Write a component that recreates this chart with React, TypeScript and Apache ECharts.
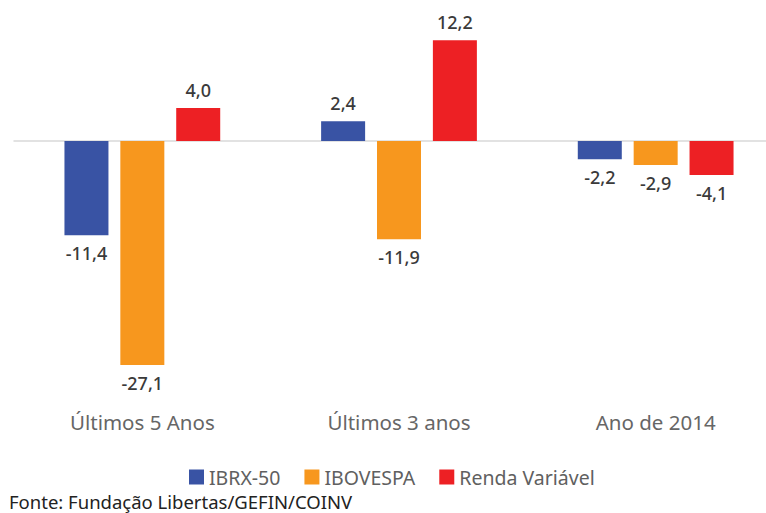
import React, { useEffect, useRef } from "react";
import * as echarts from "echarts";

const categories = ["Últimos 5 Anos", "Últimos 3 anos", "Ano de 2014"];
const seriesNames = ["IBRX-50", "IBOVESPA", "Renda Variável"];
const ibrx50 = [-11.4, 2.4, -2.2];
const ibovespa = [-27.1, -11.9, -2.9];
const rendaVariavel = [4.0, 12.2, -4.1];
const colors = ["#3953A4", "#F7971E", "#ED2024"];
const sourceText = "Fonte: Fundação Libertas/GEFIN/COINV";

export default function App() {
  const ref = useRef<HTMLDivElement>(null);
  useEffect(() => {
    if (!ref.current) return;
    const chart = echarts.init(ref.current, null, { renderer: "svg" });
    const values = [ibrx50, ibovespa, rendaVariavel];
    const font = "'Noto Sans', sans-serif";
    chart.setOption({
      animation: false,
      grid: { left: 14, width: 770, top: 17, height: 372, containLabel: false },
      legend: {
        show: true,
        top: 467,
        left: 189,
        padding: 0,
        itemWidth: 15,
        itemHeight: 15,
        itemGap: 24,
        icon: "rect",
        textStyle: { fontFamily: font, fontSize: 19.5, color: "#606060", lineHeight: 20 },
        data: seriesNames,
      },
      graphic: [
        {
          type: "text",
          left: 9,
          top: 491,
          style: { text: sourceText, fontFamily: font, fontSize: 18.5, lineHeight: 20, fill: "#222222" },
        },
      ],
      xAxis: [
        {
          type: "category",
          data: categories,
          position: "bottom",
          axisLine: { show: false, onZero: false },
          axisTick: { show: false },
          axisLabel: { margin: 22, fontFamily: font, fontSize: 20.5, color: "#666666" },
        },
        {
          type: "category",
          data: categories,
          axisLine: { show: true, onZero: true, lineStyle: { color: "#D9D9D9", width: 1.5 } },
          axisTick: { show: false },
          axisLabel: { show: false },
        },
      ],
      yAxis: {
        type: "value",
        min: -30,
        max: 15,
        show: false,
        splitLine: { show: false },
      },
      series: seriesNames.map((name, i) => ({
        name,
        type: "bar",
        xAxisIndex: 0,
        data: values[i].map((v) => ({
          value: v,
          label: { position: v >= 0 ? "top" : "bottom" },
        })),
        barWidth: 44,
        barGap: "27%",
        itemStyle: { color: colors[i] },
        label: {
          show: true,
          distance: 9,
          fontFamily: font,
          fontSize: 18,
          fontWeight: 500,
          color: "#3a3a3a",
          formatter: (p: any) => Number(p.value).toFixed(1).replace(".", ","),
        },
      })),
    });
    return () => chart.dispose();
  }, []);
  return (
    <div style={{ position: "absolute", left: 0, top: 0, width: 766, height: 513, overflow: "hidden" }}>
      <div ref={ref} style={{ width: 790, height: 513 }} />
    </div>
  );
}
